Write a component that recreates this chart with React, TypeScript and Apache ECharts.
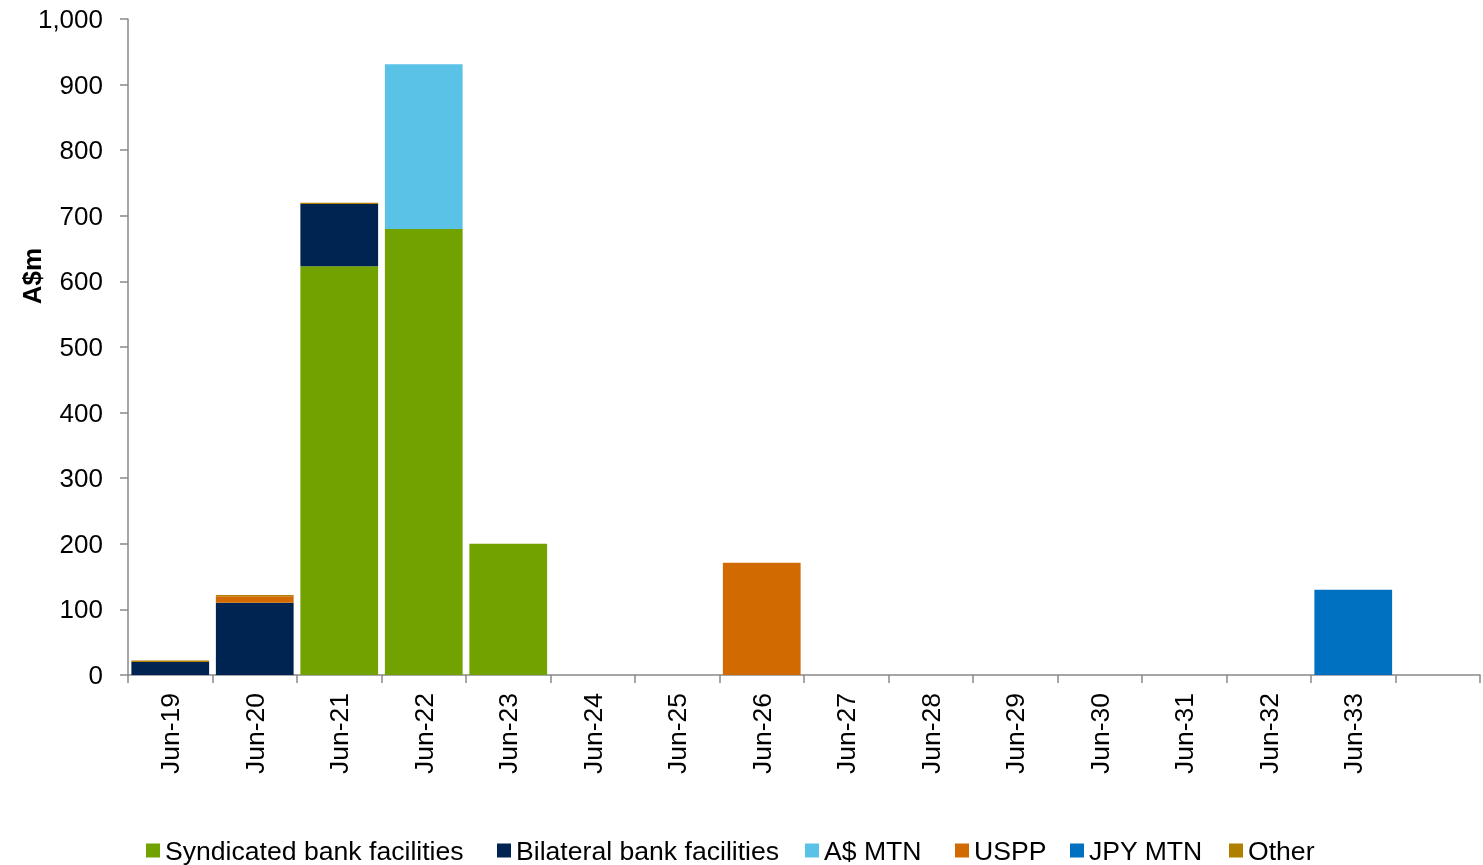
import React, { useEffect, useRef } from "react";
import * as echarts from "echarts";

const categories = ["Jun-19","Jun-20","Jun-21","Jun-22","Jun-23","Jun-24","Jun-25","Jun-26","Jun-27","Jun-28","Jun-29","Jun-30","Jun-31","Jun-32","Jun-33",""];
const syndicated = [0, 0, 623, 680, 200, 0, 0, 0, 0, 0, 0, 0, 0, 0, 0, 0];
const bilateral = [20, 110, 95, 0, 0, 0, 0, 0, 0, 0, 0, 0, 0, 0, 0, 0];
const audMtn = [0, 0, 0, 251, 0, 0, 0, 0, 0, 0, 0, 0, 0, 0, 0, 0];
const uspp = [0, 10, 0, 0, 0, 0, 0, 171, 0, 0, 0, 0, 0, 0, 0, 0];
const jpyMtn = [0, 0, 0, 0, 0, 0, 0, 0, 0, 0, 0, 0, 0, 0, 130, 0];
const other = [2, 2, 2, 0, 0, 0, 0, 0, 0, 0, 0, 0, 0, 0, 0, 0];
const yTicks = [0, 100, 200, 300, 400, 500, 600, 700, 800, 900, 1000];

const seriesDefs = [
  { name: "Syndicated bank facilities", data: syndicated, color: "#71A200", legendLeft: 146 },
  { name: "Bilateral bank facilities", data: bilateral, color: "#002452", legendLeft: 497 },
  { name: "A$ MTN", data: audMtn, color: "#5BC2E7", legendLeft: 805 },
  { name: "USPP", data: uspp, color: "#D16A00", legendLeft: 955 },
  { name: "JPY MTN", data: jpyMtn, color: "#0070C0", legendLeft: 1070 },
  { name: "Other", data: other, color: "#B07F00", legendLeft: 1229 },
];

const FONT = "'Liberation Sans', Arial, sans-serif";

export default function App() {
  const ref = useRef<HTMLDivElement>(null);
  useEffect(() => {
    if (!ref.current) return;
    const chart = echarts.init(ref.current, null, { renderer: "svg" });
    chart.setOption({
      animation: false,
      textStyle: { fontFamily: FONT },
      grid: { left: 128, right: 3, top: 19, bottom: 190, containLabel: false },
      legend: seriesDefs.map((s) => ({
        data: [s.name],
        left: s.legendLeft,
        top: 837,
        icon: "rect",
        itemWidth: 14,
        itemHeight: 14,
        itemGap: 0,
        padding: 0,
        selectedMode: false,
        textStyle: { fontSize: 26.6, color: "#000", fontFamily: FONT },
      })),
      graphic: [
        {
          type: "text",
          x: 32,
          y: 276,
          rotation: Math.PI / 2,
          style: {
            text: "A$m",
            font: `bold 26px ${FONT}`,
            fill: "#000",
            align: "center",
            verticalAlign: "middle",
          },
        },
      ],
      xAxis: {
        type: "category",
        data: categories,
        boundaryGap: true,
        axisLine: { lineStyle: { color: "#898989", width: 1.5 } },
        axisTick: { show: true, alignWithLabel: false, length: 8, lineStyle: { color: "#898989", width: 1.5 } },
        axisLabel: { rotate: 90, fontSize: 26.5, color: "#000", margin: 18, fontFamily: FONT, interval: 0 },
      },
      yAxis: {
        type: "value",
        min: 0,
        max: 1000,
        interval: 100,
        splitLine: { show: false },
        axisLine: { show: true, lineStyle: { color: "#898989", width: 1.5 } },
        axisTick: { show: true, length: 8, lineStyle: { color: "#898989", width: 1.5 } },
        axisLabel: {
          fontSize: 26,
          color: "#000",
          margin: 25,
          fontFamily: FONT,
          formatter: (v: number) => (yTicks.includes(v) ? v.toLocaleString("en-US") : ""),
        },
      },
      series: seriesDefs.map((s) => ({
        name: s.name,
        type: "bar",
        stack: "total",
        data: s.data,
        barCategoryGap: "8%",
        itemStyle: { color: s.color },
      })),
    });
    return () => chart.dispose();
  }, []);
  return <div ref={ref} style={{ position: "fixed", left: 0, top: 0, width: 1483, height: 865 }} />;
}
